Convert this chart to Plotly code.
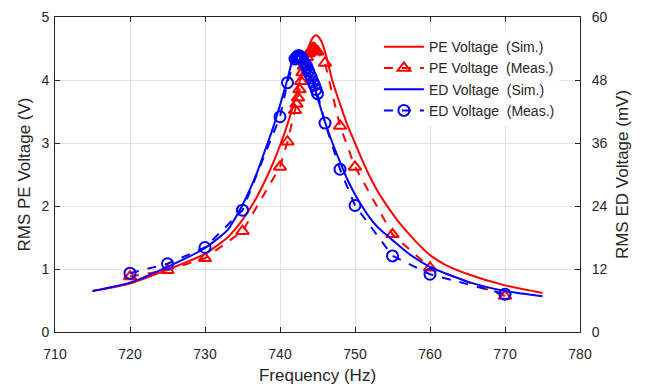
import plotly.graph_objects as go

# PE voltage (V), simulated
pe_sim_f = [715, 720, 725, 730, 733, 734, 735, 736, 737, 738, 739, 740, 741, 742, 743, 743.5,
            744, 744.5, 744.8, 745, 745.5, 746, 746.5, 747, 748, 749, 750, 751, 752, 753, 754,
            755, 756, 757, 758, 760, 762, 765, 770, 775]
pe_sim_v = [0.65, 0.77, 0.99, 1.24, 1.50, 1.63, 1.78, 1.96, 2.16, 2.40, 2.66, 2.96, 3.30, 3.70, 4.16, 4.40,
            4.58, 4.69, 4.71, 4.70, 4.62, 4.45, 4.22, 3.98, 3.62, 3.28, 3.00, 2.72, 2.46, 2.24, 2.05,
            1.88, 1.72, 1.58, 1.45, 1.22, 1.07, 0.92, 0.74, 0.62]

# PE voltage (V), measured
pe_meas_f = [720, 725, 730, 735, 740, 741, 742, 742.2, 742.4, 742.6, 742.8, 743, 743.2, 743.4,
             743.6, 743.8, 744, 744.2, 744.4, 744.6, 744.8, 745, 746, 748, 750, 755, 760, 770]
pe_meas_v = [0.88, 0.98, 1.17, 1.60, 2.62, 3.02, 3.52, 3.62, 3.72, 3.85, 3.98, 4.12, 4.22, 4.30,
             4.36, 4.42, 4.45, 4.48, 4.50, 4.50, 4.47, 4.45, 4.27, 3.27, 2.62, 1.55, 1.02, 0.57]

# ED voltage (mV), simulated
ed_sim_f = [715, 720, 725, 730, 733, 734, 735, 736, 737, 738, 739, 740, 741, 741.5, 742, 742.5,
            743, 743.5, 744, 745, 746, 747, 748, 749, 750, 751, 752, 753, 754, 755, 757, 760,
            765, 770, 775]
ed_sim_mv = [7.8, 9.4, 12.4, 16.0, 19.4, 21.6, 24.2, 27.2, 30.6, 34.6, 38.6, 43.2, 48.2, 51.0, 52.8, 53.4,
             52.8, 51.2, 49.2, 44.6, 40.0, 36.0, 32.4, 29.0, 26.2, 23.8, 21.7, 20.0, 18.7, 17.5, 15.1, 12.4,
             9.6, 7.8, 6.8]

# ED voltage (mV), measured
ed_meas_f = [720, 725, 730, 735, 740, 741, 742, 742.2, 742.4, 742.6, 742.8, 743, 743.2, 743.4,
             743.6, 743.8, 744, 744.2, 744.4, 744.6, 744.8, 745, 746, 748, 750, 755, 760, 770]
ed_meas_mv = [11.2, 13.0, 16.1, 23.2, 41.0, 47.5, 52.0, 52.3, 52.6, 52.6, 52.3, 52.0, 51.4, 50.9,
              50.4, 49.7, 49.0, 48.4, 47.6, 47.0, 46.2, 45.4, 39.8, 31.0, 24.1, 14.5, 11.0, 7.2]

legend_names = ["PE Voltage  (Sim.)", "PE Voltage  (Meas.)",
                "ED Voltage  (Sim.)", "ED Voltage  (Meas.)"]

RED = "#ff0000"
BLUE = "#0000ff"
FONT = "Liberation Sans, Arial, sans-serif"
TXT = "#262626"

fig = go.Figure()
fig.add_trace(go.Scatter(x=pe_sim_f, y=pe_sim_v, name=legend_names[0], mode="lines",
                         line=dict(color=RED, width=2, shape="spline", smoothing=0.6)))
fig.add_trace(go.Scatter(x=pe_meas_f, y=pe_meas_v, name=legend_names[1], mode="lines+markers",
                         line=dict(color=RED, width=2, dash="dash"),
                         marker=dict(symbol="triangle-up-open", size=11, color=RED,
                                     line=dict(width=2, color=RED))))
fig.add_trace(go.Scatter(x=ed_sim_f, y=ed_sim_mv, name=legend_names[2], mode="lines", yaxis="y2",
                         line=dict(color=BLUE, width=2, shape="spline", smoothing=0.6)))
fig.add_trace(go.Scatter(x=ed_meas_f, y=ed_meas_mv, name=legend_names[3], mode="lines+markers",
                         yaxis="y2",
                         line=dict(color=BLUE, width=2, dash="dash"),
                         marker=dict(symbol="circle-open", size=11, color=BLUE,
                                     line=dict(width=2, color=BLUE))))

axis_common = dict(showline=True, linecolor="#262626", linewidth=1, ticks="inside",
                   ticklen=5, tickcolor="#262626", zeroline=False, ticklabeloverflow="allow",
                   tickfont=dict(family=FONT, size=14, color=TXT))

fig.update_layout(
    width=641, height=384,
    margin=dict(l=47, r=69, t=9, b=60, autoexpand=False),
    paper_bgcolor="white", plot_bgcolor="white",
    font=dict(family=FONT, color=TXT),
    xaxis=dict(range=[710, 780], dtick=10, mirror="ticks", showgrid=True, gridcolor="#e3e3e3",
               ticklabelstandoff=9,
               title=dict(text="Frequency (Hz)", font=dict(family=FONT, size=17, color=TXT),
                          standoff=8),
               **axis_common),
    yaxis=dict(range=[0, 5], dtick=1, showgrid=True, gridcolor="#e3e3e3",
               ticklabelstandoff=2,
               title=dict(text="RMS PE Voltage (V)", font=dict(family=FONT, size=17, color=TXT),
                          standoff=6),
               **axis_common),
    yaxis2=dict(range=[0, 60], dtick=12, overlaying="y", side="right", showgrid=False,
                ticklabelstandoff=8,
                title=dict(text="RMS ED Voltage (mV)", font=dict(family=FONT, size=17, color=TXT),
                           standoff=9),
                **axis_common),
    legend=dict(x=0.617, y=0.955, xanchor="left", yanchor="top",
                bgcolor="rgba(255,255,255,0.85)", borderwidth=0,
                font=dict(family=FONT, size=14, color=TXT), tracegroupgap=0,
                itemwidth=40),
    showlegend=True,
)

fig.write_html("out.html")
